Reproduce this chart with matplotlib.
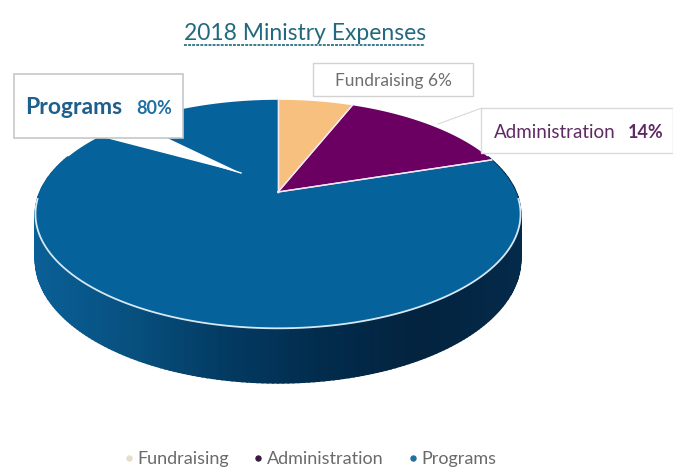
import numpy as np
import matplotlib
matplotlib.use("Agg")
import matplotlib.pyplot as plt
from matplotlib.colors import LinearSegmentedColormap
from matplotlib.lines import Line2D

plt.rcParams['font.family'] = ['Lato', 'DejaVu Sans']

categories = ['Fundraising', 'Administration', 'Programs']
shares = [6, 14, 80]
colors = ['#F8C07E', '#6B0062', '#06629B']
title = '2018 Ministry Expenses'

# pixel layout of the tilted disc
cx, cy = 278, 192
R, H, k = 238, 110, 0.193
depth = 44

side_cmap = LinearSegmentedColormap.from_list(
    'side', ['#0A5F96', '#07507F', '#033A61', '#022B4C', '#03233F', '#042A4A'])


def project(t, drop=0.0):
    # t is clockwise from 12 o'clock, tilt gives the near edge a bigger radius
    u, v = np.sin(t), np.cos(t)
    s = 1 / (1 + k * v)
    return cx + R * u * s, cy - H * v * s + drop * s


fig = plt.figure(figsize=(6.73, 4.69), dpi=100)
ax = fig.add_axes([0, 0, 1, 1])
ax.set_xlim(0, 673)
ax.set_ylim(469, 0)
ax.axis('off')

# side wall, one thin strip per step so it can shade left to right
edges = np.linspace(0, 2 * np.pi, 361)
for a, b in zip(edges[:-1], edges[1:]):
    if np.cos((a + b) / 2) > 0.35:
        continue
    xa, ya = project(a)
    xb, yb = project(b)
    xa2, ya2 = project(a, depth)
    xb2, yb2 = project(b, depth)
    c = side_cmap((xa - 36) / 485)
    ax.fill([xa, xb, xb2, xa2], [ya, yb, yb2, ya2], fc=c, ec=c, lw=1.2, zorder=1)

# top face from the shares
stops = 2 * np.pi * np.cumsum([0] + shares) / sum(shares)
for i, col in enumerate(colors):
    t = np.linspace(stops[i], stops[i + 1], 200)
    x, y = project(t)
    ax.fill(np.r_[cx, x], np.r_[cy, y], color=col, lw=0, zorder=2)
    ax.plot([cx, x[0]], [cy, y[0]], color='#F4E6F2', lw=1.0, zorder=3)
    ax.plot([cx, x[-1]], [cy, y[-1]], color='#F4E6F2', lw=1.0, zorder=3)

# pale rim on the near edge
t = np.linspace(np.pi * 0.52, np.pi * 1.48, 200)
ax.plot(*project(t), color='#D6E8F4', lw=1.3, zorder=3)

# callouts
ax.fill([98, 163, 241], [136, 136, 173], color='white', lw=0, zorder=4)
ax.plot([120, 241], [136, 173], color='white', lw=1, zorder=4)
ax.fill([14, 183, 183, 14], [74, 74, 138, 138], fc='white', ec='#C4C8CC', lw=1.2, zorder=5)
ax.text(25, 107, 'Programs', color='#1F5F8B', fontsize=16.5, fontweight='bold',
        va='center', zorder=6)
ax.text(136, 109, '80%', color='#1F6FA5', fontsize=13, fontweight='bold',
        va='center', zorder=6)

ax.fill([313, 473, 473, 313], [63, 63, 96, 96], fc='white', ec='#D2D2D2', lw=1, zorder=5)
ax.text(393, 81, 'Fundraising 6%', color='#6E6E6E', fontsize=12.5,
        ha='center', va='center', zorder=6)

ax.plot([438, 482, 482], [124, 108, 126], color='#D8D8D8', lw=0.8, zorder=4)
ax.fill([481, 673, 673, 481], [108, 108, 153, 153], fc='white', ec='#DADADA', lw=1, zorder=5)
ax.text(494, 133, 'Administration', color='#5F2A64', fontsize=13.5,
        va='center', zorder=6)
ax.text(628, 133, '14%', color='#5F2A64', fontsize=13, fontweight='bold',
        va='center', zorder=6)

# title with its dotted underline
ax.text(305, 33, title, color='#22697F', fontsize=16.5, ha='center', va='center')
ax.plot([184, 425], [45, 45], color='#3A7C90', lw=1.4, ls=(0, (1.5, 0.6)))

handles = [Line2D([], [], ls='none', marker='o', ms=3.6, color=c) for c in
           ['#E8DDCB', '#3A1A40', '#1F6F9F']]
ax.legend(handles, categories, loc='center', bbox_to_anchor=(309 / 673, 1 - 459 / 469),
          ncol=3, frameon=False, fontsize=13, labelcolor='#6A6A6A',
          handletextpad=0.1, columnspacing=1.2, handlelength=0.8)

fig.savefig('out.png', dpi=100)
